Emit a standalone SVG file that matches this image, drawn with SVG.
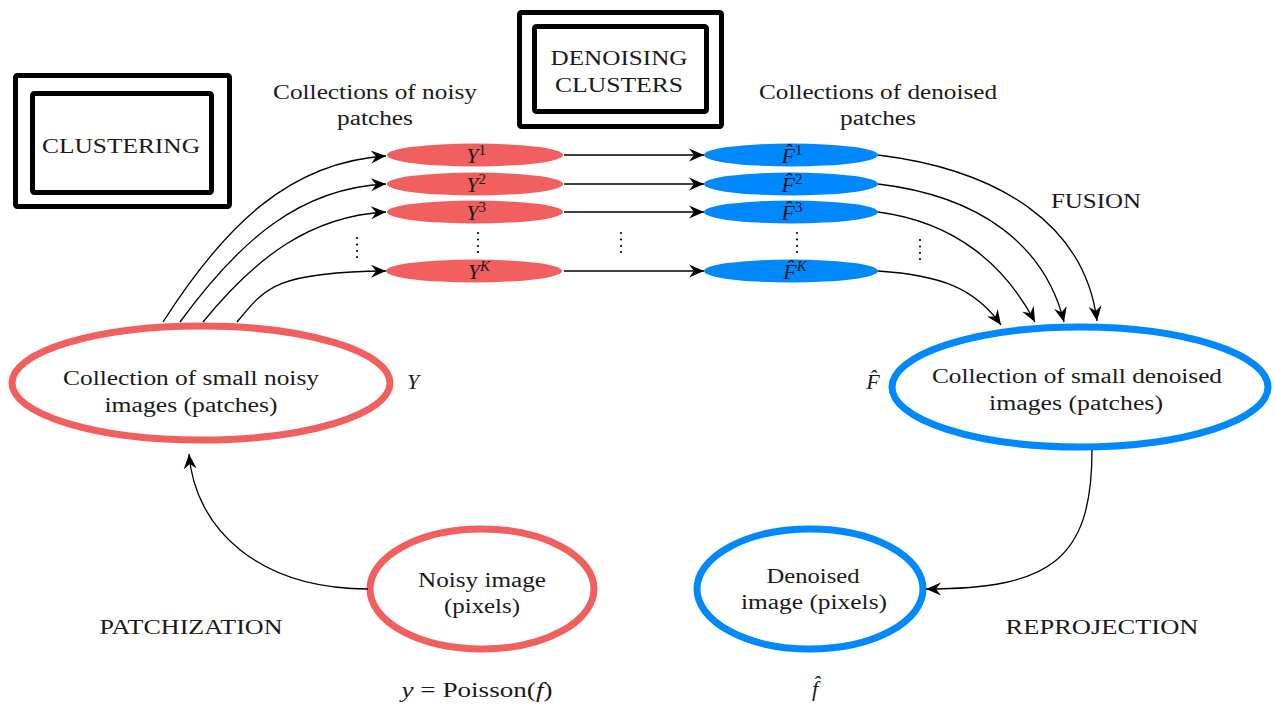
<svg xmlns="http://www.w3.org/2000/svg" width="1275" height="704" viewBox="0 0 1275 704">
<defs>
<marker id="ah" viewBox="-16 -8 17 16" markerWidth="17" markerHeight="16" refX="0" refY="0" orient="auto" markerUnits="userSpaceOnUse">
<path d="M0,0 L-15,-6.5 L-10,0 L-15,6.5 Z" fill="#000"/>
</marker>
</defs>
<style>
text{font-family:'Liberation Serif','DejaVu Serif',serif;fill:#1a1a1a;text-anchor:middle}
.lbl{font-size:20px}
.math{font-size:22px;font-style:italic}
.sup{font-size:15px;font-style:normal}
.supi{font-size:15px;font-style:italic}
.red{fill:none;stroke:#F15F5F;stroke-width:7}
.blue{fill:none;stroke:#0088FF;stroke-width:7}
.redf{fill:#F15F5F}
.bluef{fill:#0088FF}
.box{fill:none;stroke:#000;stroke-width:5}
.con{fill:none;stroke:#000;stroke-width:1.3;marker-end:url(#ah)}
.dot{fill:#000}
</style>

<g id="clustering">
<rect class="box" x="15.5" y="75.5" width="214" height="131" rx="2"/>
<rect class="box" x="32.5" y="93.5" width="179" height="99" rx="2"/>
<text class="lbl" x="121" y="153" textLength="158" lengthAdjust="spacingAndGlyphs">CLUSTERING</text>
</g>

<g id="denoising-clusters">
<rect class="box" x="519.5" y="12.5" width="202" height="114" rx="2"/>
<rect class="box" x="534.5" y="26.5" width="172" height="85" rx="2"/>
<text class="lbl" x="619" y="65" textLength="137" lengthAdjust="spacingAndGlyphs">DENOISING</text>
<text class="lbl" x="619" y="92" textLength="128" lengthAdjust="spacingAndGlyphs">CLUSTERS</text>
</g>

<g id="noisy-title">
<text class="lbl" x="375" y="99" textLength="204" lengthAdjust="spacingAndGlyphs">Collections of noisy</text>
<text class="lbl" x="375" y="125" textLength="76" lengthAdjust="spacingAndGlyphs">patches</text>
</g>
<g id="denoised-title">
<text class="lbl" x="878" y="99" textLength="238" lengthAdjust="spacingAndGlyphs">Collections of denoised</text>
<text class="lbl" x="878" y="125" textLength="76" lengthAdjust="spacingAndGlyphs">patches</text>
</g>

<g id="Y1"><ellipse class="redf" cx="475" cy="155" rx="88" ry="11.5"/><text class="math" x="476" y="163">Y<tspan class="sup" dy="-8">1</tspan></text></g>
<g id="Y2"><ellipse class="redf" cx="475" cy="184" rx="88" ry="11.5"/><text class="math" x="476" y="192">Y<tspan class="sup" dy="-8">2</tspan></text></g>
<g id="Y3"><ellipse class="redf" cx="475" cy="212" rx="88" ry="11.5"/><text class="math" x="476" y="220">Y<tspan class="sup" dy="-8">3</tspan></text></g>
<g id="YK"><ellipse class="redf" cx="474" cy="271" rx="88" ry="11.5"/><text class="math" x="479" y="279">Y<tspan class="supi" dy="-8">K</tspan></text></g>

<g id="F1"><ellipse class="bluef" cx="791" cy="155" rx="87" ry="11.5"/><text class="math" x="792" y="163">F̂<tspan class="sup" dy="-8">1</tspan></text></g>
<g id="F2"><ellipse class="bluef" cx="791" cy="184" rx="87" ry="11.5"/><text class="math" x="792" y="192">F̂<tspan class="sup" dy="-8">2</tspan></text></g>
<g id="F3"><ellipse class="bluef" cx="791" cy="212" rx="87" ry="11.5"/><text class="math" x="792" y="220">F̂<tspan class="sup" dy="-8">3</tspan></text></g>
<g id="FK"><ellipse class="bluef" cx="791" cy="271" rx="87" ry="11.5"/><text class="math" x="795" y="279">F̂<tspan class="supi" dy="-8">K</tspan></text></g>

<g id="vdots">
<circle class="dot" cx="357" cy="238" r="1.1"/><circle class="dot" cx="357" cy="244.5" r="1.1"/><circle class="dot" cx="357" cy="251" r="1.1"/><circle class="dot" cx="357" cy="257" r="1.1"/>
<circle class="dot" cx="478" cy="233" r="1.1"/><circle class="dot" cx="478" cy="239.5" r="1.1"/><circle class="dot" cx="478" cy="246" r="1.1"/><circle class="dot" cx="478" cy="252" r="1.1"/>
<circle class="dot" cx="621" cy="233" r="1.1"/><circle class="dot" cx="621" cy="239.5" r="1.1"/><circle class="dot" cx="621" cy="246" r="1.1"/><circle class="dot" cx="621" cy="252" r="1.1"/>
<circle class="dot" cx="797" cy="233" r="1.1"/><circle class="dot" cx="797" cy="239.5" r="1.1"/><circle class="dot" cx="797" cy="246" r="1.1"/><circle class="dot" cx="797" cy="252" r="1.1"/>
<circle class="dot" cx="920" cy="240" r="1.1"/><circle class="dot" cx="920" cy="246.5" r="1.1"/><circle class="dot" cx="920" cy="253" r="1.1"/><circle class="dot" cx="920" cy="259" r="1.1"/>
</g>

<g id="noisy-patches">
<ellipse class="red" cx="201" cy="383" rx="189" ry="57"/>
<text class="lbl" x="191" y="385" textLength="256" lengthAdjust="spacingAndGlyphs">Collection of small noisy</text>
<text class="lbl" x="191" y="412" textLength="173" lengthAdjust="spacingAndGlyphs">images (patches)</text>
<text class="math" x="413" y="389">Y</text>
</g>

<g id="denoised-patches">
<ellipse class="blue" cx="1080" cy="387" rx="188" ry="60"/>
<text class="lbl" x="1077" y="383" textLength="290" lengthAdjust="spacingAndGlyphs">Collection of small denoised</text>
<text class="lbl" x="1076" y="410" textLength="174" lengthAdjust="spacingAndGlyphs">images (patches)</text>
<text class="math" x="873" y="389">F̂</text>
</g>

<g id="noisy-image">
<ellipse class="red" cx="482" cy="589" rx="112" ry="60"/>
<text class="lbl" x="482" y="587" textLength="128" lengthAdjust="spacingAndGlyphs">Noisy image</text>
<text class="lbl" x="482" y="613" textLength="76" lengthAdjust="spacingAndGlyphs">(pixels)</text>
<text class="lbl" x="477" y="697" textLength="151" lengthAdjust="spacingAndGlyphs"><tspan font-style="italic">y</tspan> = Poisson(<tspan font-style="italic">f</tspan>)</text>
</g>

<g id="denoised-image">
<ellipse class="blue" cx="810" cy="589" rx="113" ry="60"/>
<text class="lbl" x="813" y="583" textLength="93" lengthAdjust="spacingAndGlyphs">Denoised</text>
<text class="lbl" x="814" y="609" textLength="146" lengthAdjust="spacingAndGlyphs">image (pixels)</text>
<text class="math" x="815" y="696">f̂</text>
</g>

<g id="step-labels">
<text class="lbl" x="191" y="634" textLength="183" lengthAdjust="spacingAndGlyphs">PATCHIZATION</text>
<text class="lbl" x="1102" y="634" textLength="193" lengthAdjust="spacingAndGlyphs">REPROJECTION</text>
<text class="lbl" x="1096" y="208" textLength="90" lengthAdjust="spacingAndGlyphs">FUSION</text>
</g>

<g id="connectors">
<path class="con" d="M163,322 C225,225 290,162 386,156"/>
<path class="con" d="M180,322 C240,240 300,188 386,184"/>
<path class="con" d="M203,322 C255,258 310,216 386,212"/>
<path class="con" d="M237,322 C265,288 275,272 386,271"/>
<path class="con" d="M564,155 L704,155"/>
<path class="con" d="M564,184 L704,184"/>
<path class="con" d="M564,212 L704,212"/>
<path class="con" d="M564,271 L704,271"/>
<path class="con" d="M878,155 C1000,170 1085,225 1097,321"/>
<path class="con" d="M878,184 C980,196 1045,245 1064,322"/>
<path class="con" d="M878,212 C955,222 1005,265 1035,322"/>
<path class="con" d="M878,271 C940,275 975,288 1001,325"/>
<path class="con" d="M368,589 C260,589 195,530 189,454"/>
<path class="con" d="M1092,450 C1092,560 1050,589 926,589"/>
</g>
</svg>
